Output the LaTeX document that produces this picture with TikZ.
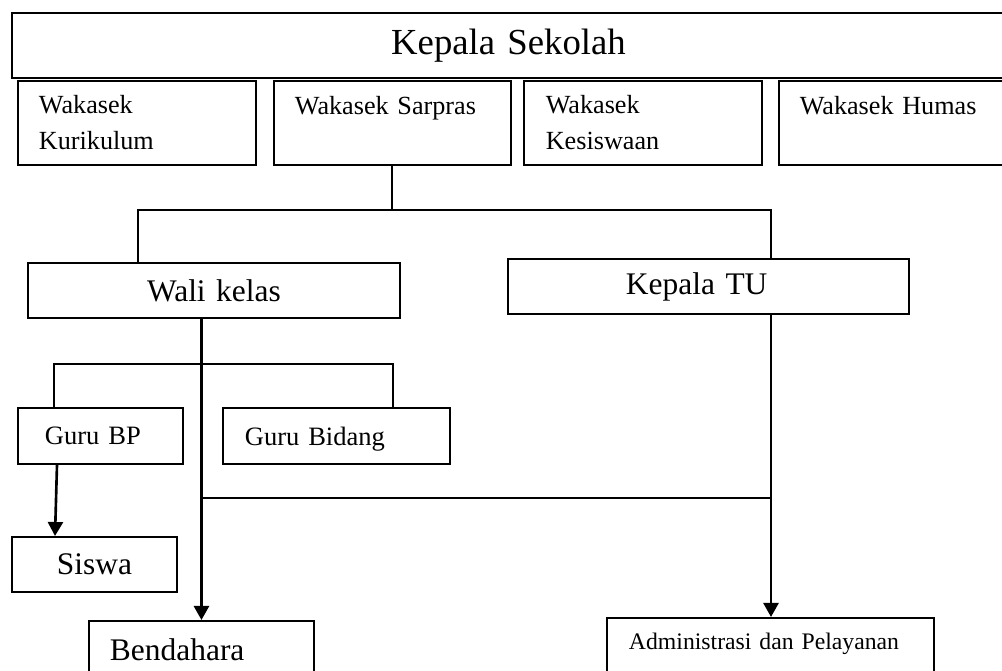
\documentclass[tikz,border=0pt]{standalone}
\usepackage{fontspec}
\setmainfont{Liberation Serif}
\usepackage{tikz}
\usetikzlibrary{positioning,arrows.meta}
\newlength{\pxu}
\setlength{\pxu}{0.02cm}
\newcommand{\ind}[1]{\hspace*{#1\pxu}}
\tikzstyle{orgbox}=[rectangle, draw=black, line width=1.1pt, anchor=north west,
        inner xsep=0pt, inner ysep=0pt, align=left]
\tikzstyle{headbox}=[orgbox, align=center, font={\fontsize{20.9pt}{25pt}\selectfont}]
\tikzstyle{wakabox}=[orgbox, font={\fontsize{14.9pt}{20.4pt}\selectfont}]
\tikzstyle{unitbox}=[orgbox, font={\fontsize{17.9pt}{21pt}\selectfont}]
\tikzstyle{gurubox}=[orgbox, text depth=0pt, font={\fontsize{15.1pt}{18pt}\selectfont}]
\tikzstyle{adminbox}=[orgbox, font={\fontsize{13.5pt}{19pt}\selectfont}]
\tikzstyle{treeLine}=[line width=1.2pt]
\tikzstyle{arrowLine}=[line width=1.5pt, -{Triangle[width=0.3cm,length=0.28cm]}]

\begin{document}
\begin{tikzpicture}[x=0.02cm, y=-0.02cm]
\useasboundingbox (0,0) rectangle (1002,671);

% kepala sekolah dan wakasek
\node (KepalaSekolah) [headbox, text width=993\pxu, minimum height=65\pxu] at (11,12) {Kepala Sekolah};
\node (Kurikulum) [wakabox, text width=238\pxu, minimum height=84\pxu] at (17,80) {\ind{21}Wakasek\\\ind{21}Kurikulum};
\node (Sarpras) [wakabox, text width=237\pxu, minimum height=84\pxu, right=16\pxu of Kurikulum.north east, anchor=north west] {\ind{21}Wakasek Sarpras\\\mbox{}};
\node (Kesiswaan) [wakabox, text width=238\pxu, minimum height=84\pxu, right=11\pxu of Sarpras.north east, anchor=north west] {\ind{22}Wakasek\\\ind{22}Kesiswaan};
\node (Humas) [wakabox, text width=234\pxu, minimum height=84\pxu, right=15\pxu of Kesiswaan.north east, anchor=north west] {\ind{21}Wakasek Humas\\\mbox{}};

% wali kelas dan kepala TU
\node (WaliKelas) [unitbox, align=center, text width=372\pxu, minimum height=55\pxu] at (27,262) {Wali kelas};
\node (KepalaTU) [unitbox, text width=401\pxu, minimum height=55\pxu] at (507,258) {\ind{118}Kepala TU};

% guru dan siswa
\node (GuruBP) [gurubox, text width=165\pxu, minimum height=56\pxu] at (17,407) {\ind{27}Guru BP};
\node (GuruBidang) [gurubox, text width=227\pxu, minimum height=56\pxu, right=38\pxu of GuruBP.north east, anchor=north west] {\ind{22}Guru Bidang};
\node (Siswa) [unitbox, align=center, text width=165\pxu, minimum height=55\pxu] at (11,536) {Siswa};
\node (Bendahara) [unitbox, text width=225\pxu, minimum height=58\pxu] at (88,620) {\ind{21}Bendahara};
\node (Administrasi) [adminbox, text width=327\pxu, minimum height=81\pxu] at (606,617) {\ind{22}Administrasi dan Pelayanan\\\mbox{}};

\coordinate (barL) at (138,210);
\coordinate (barR) at (771,210);
\coordinate (guruL) at (54,364);
\coordinate (guruR) at (393,364);
\coordinate (midBar) at (771,498);

\draw[treeLine] (Sarpras.south) -- (Sarpras.south |- barL);
\draw[treeLine] (barL |- WaliKelas.north) -- (barL) -- (barR) -- (barR |- KepalaTU.north);
\draw[treeLine] (guruL |- GuruBP.north) -- (guruL) -- (guruR) -- (guruR |- GuruBidang.north);
\draw[treeLine] (Bendahara.north |- midBar) -- (midBar);
\draw[arrowLine] (WaliKelas.south -| Bendahara.north) -- (Bendahara.north);
\draw[arrowLine] (KepalaTU.south -| barR) -- (Administrasi.north -| barR);
\draw[arrowLine] ([xshift=40\pxu]GuruBP.south west) -- ([xshift=44\pxu]Siswa.north west);

\end{tikzpicture}
\end{document}
